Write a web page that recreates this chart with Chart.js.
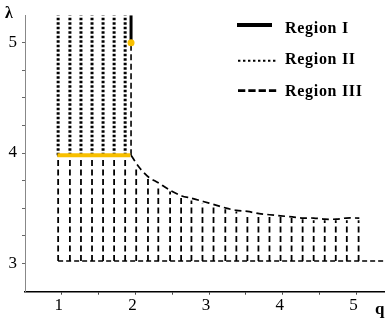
<!DOCTYPE html>
<html>
<head>
<meta charset="utf-8">
<script src="https://cdn.jsdelivr.net/npm/chart.js"></script>
<style>
  body { margin: 0; background: #fff; }
  #wrap { position: relative; width: 388px; height: 324px; }
  .axis-name { position: absolute; font-family: "Liberation Serif", serif; font-weight: bold; color: #000; }
  .leg-text { position: absolute; left: 285px; font: bold 16px/16px "Liberation Serif", serif; letter-spacing: 0.7px; color: #000; white-space: nowrap; }
  #legLines { position: absolute; left: 0; top: 0; }
</style>
</head>
<body>
<div id="wrap">
  <canvas id="regionChart"></canvas>
  <span class="axis-name" style="left:5px; top:5px; font-size:16px; line-height:16px;">λ</span>
  <span class="axis-name" style="left:375px; top:300px; font-size:17px; line-height:17px;">q</span>
  <svg id="legLines" width="388" height="110">
    <line x1="237" y1="25" x2="272" y2="25" stroke="#000" stroke-width="4"/>
    <line x1="238" y1="60.7" x2="277" y2="60.7" stroke="#000" stroke-width="2" stroke-dasharray="2.4 2.6"/>
    <line x1="238" y1="90.7" x2="277" y2="90.7" stroke="#000" stroke-width="2.7" stroke-dasharray="7.3 3"/>
  </svg>
  <span class="leg-text" style="top:20px;">Region I</span>
  <span class="leg-text" style="top:51px;">Region II</span>
  <span class="leg-text" style="top:83px;">Region III</span>
</div>
<script>
// 目盛りラベル
const xTickLabels = [1, 2, 3, 4, 5];
const yTickLabels = [3, 4, 5];

// Region II（点線の縦線）
const region2Q = [0.95, 1.11, 1.26, 1.41, 1.56, 1.71, 1.86];
const region2Low = 3.98;
const region2High = 5.25;

// Region III（破線の縦線）
const region3Q = [0.95, 1.11, 1.26, 1.41, 1.56, 1.71, 1.86, 2.01, 2.17, 2.31, 2.47, 2.62, 2.76, 2.91,
  3.06, 3.22, 3.37, 3.52, 3.67, 3.82, 3.97, 4.12, 4.27, 4.42, 4.57, 4.72, 4.87, 5.03];
const region3Top = [3.98, 3.98, 3.98, 3.98, 3.98, 3.98, 3.98, 3.85, 3.77, 3.71, 3.65, 3.60, 3.57, 3.54,
  3.51, 3.49, 3.47, 3.45, 3.44, 3.43, 3.42, 3.41, 3.40, 3.39, 3.39, 3.39, 3.39, 3.39];
const region3Low = 3.02;

// Region I（実線）と境界
const region1Q = 1.94;
const region1Lambda = [5.0, 5.25];
const borderLambda = [3.98, 5.0];

// オレンジの線と点
const orangeQ = [0.94, 1.93];
const orangeLambda = 3.98;
const dotQ = 1.94;
const dotLambda = 5.0;

// 境界曲線
const curveQ = [1.94, 2.05, 2.18, 2.31, 2.45, 2.63, 2.76, 2.92, 3.08, 3.23, 3.37, 3.52, 3.68, 3.82,
  3.97, 4.13, 4.26, 4.42, 4.57, 4.73, 4.86, 5.04];
const curveLambda = [3.98, 3.87, 3.78, 3.73, 3.67, 3.61, 3.59, 3.56, 3.53, 3.50, 3.48, 3.47, 3.45, 3.44,
  3.43, 3.42, 3.41, 3.41, 3.40, 3.40, 3.41, 3.41];

// 下の破線
const baseQ = [0.95, 5.375];
const baseLambda = 3.02;

function columns(qs, lows, highs) {
  const pts = [];
  qs.forEach(function (q, i) {
    const lo = Array.isArray(lows) ? lows[i] : lows;
    const hi = Array.isArray(highs) ? highs[i] : highs;
    pts.push({x: q, y: lo}, {x: q, y: hi}, {x: q, y: null});
  });
  return pts;
}

const lineBase = {showLine: true, pointRadius: 0, borderColor: '#000', backgroundColor: '#000', fill: false, spanGaps: false};

var ctx = document.getElementById('regionChart').getContext('2d');
var regionChart = new Chart(ctx, {
  type: 'scatter',
  data: {
    datasets: [
      {
        data: [{x: dotQ, y: dotLambda}],
        showLine: false, pointRadius: 3.5, pointBackgroundColor: '#f8bf00', pointBorderWidth: 0
      },
      Object.assign({}, lineBase, {
        data: orangeQ.map(function (q) { return {x: q, y: orangeLambda}; }),
        borderColor: '#f8bf00', borderWidth: 4
      }),
      Object.assign({}, lineBase, {
        data: region1Lambda.map(function (l) { return {x: region1Q, y: l}; }),
        borderWidth: 3
      }),
      Object.assign({}, lineBase, {
        data: columns(region2Q, region2Low, region2High),
        borderWidth: 3, borderDash: [2.5, 2]
      }),
      Object.assign({}, lineBase, {
        data: columns([region1Q], borderLambda[0], borderLambda[1]),
        borderWidth: 1.6, borderDash: [6, 3.5]
      }),
      Object.assign({}, lineBase, {
        data: columns(region3Q, region3Low, region3Top),
        borderWidth: 1.8, borderDash: [6, 3.5]
      }),
      Object.assign({}, lineBase, {
        data: curveQ.map(function (q, i) { return {x: q, y: curveLambda[i]}; }),
        borderWidth: 1.7, borderDash: [7, 4], tension: 0.3
      }),
      Object.assign({}, lineBase, {
        data: baseQ.map(function (q) { return {x: q, y: baseLambda}; }),
        borderWidth: 1.5, borderDash: [5, 3]
      })
    ]
  },
  options: {
    responsive: true,
    maintainAspectRatio: false,
    animation: false,
    layout: {padding: {top: 15, right: 0, left: 0, bottom: 0}},
    plugins: {legend: {display: false}, tooltip: {enabled: false}},
    scales: {
      x: {
        type: 'linear', min: 0.5, max: 5.375,
        afterFit: function (scale) { scale.height = 32.3; },
        border: {color: '#000', width: 1.5},
        grid: {
          drawOnChartArea: false, drawTicks: true, tickLength: 3,
          color: function (c) { return c.tick && c.tick.value > 0.5 ? '#444' : 'rgba(0,0,0,0)'; }
        },
        ticks: {
          stepSize: 0.5, includeBounds: false, maxRotation: 0, autoSkip: false,
          padding: 1, labelOffset: -3, color: '#000',
          font: {family: '"Liberation Serif", serif', size: 17},
          callback: function (v) { return xTickLabels.indexOf(v) >= 0 ? String(v) : ''; }
        }
      },
      y: {
        type: 'linear', min: 2.742, max: 5.25,
        afterFit: function (scale) { scale.width = 25; },
        border: {color: '#888', width: 1},
        grid: {
          drawOnChartArea: false, drawTicks: true, tickLength: 3,
          color: function (c) { return c.tick && c.tick.value > 2.9 && c.tick.value < 5.2 ? '#666' : 'rgba(0,0,0,0)'; }
        },
        ticks: {
          stepSize: 0.25, includeBounds: false, autoSkip: false,
          padding: 5, color: '#000',
          font: {family: '"Liberation Serif", serif', size: 17},
          callback: function (v) { return yTickLabels.indexOf(v) >= 0 ? String(v) : ''; }
        }
      }
    }
  }
});
</script>
</body>
</html>
